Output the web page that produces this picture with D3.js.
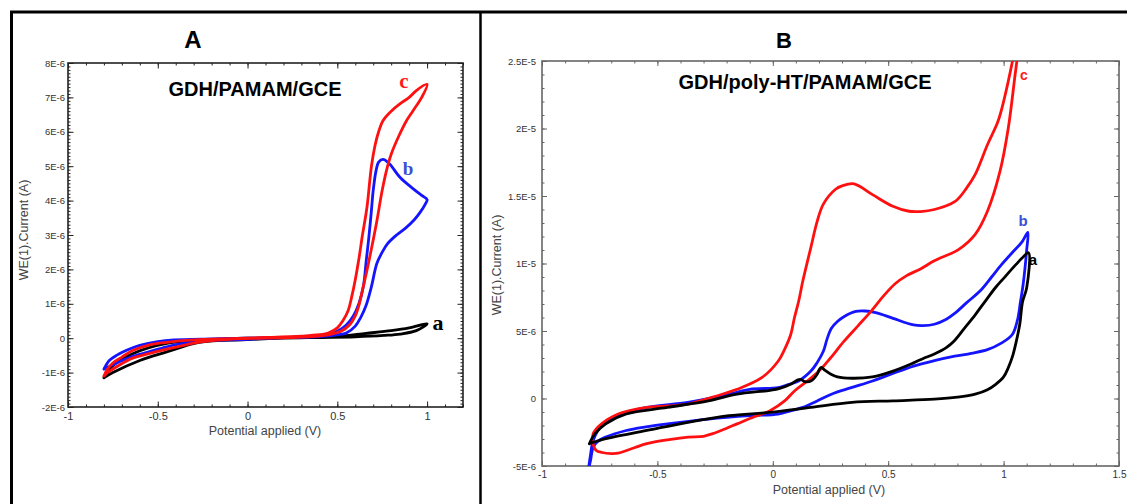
<!DOCTYPE html>
<html><head><meta charset="utf-8">
<script src="https://cdn.jsdelivr.net/npm/d3@7"></script>
<style>body{margin:0;background:#fff}svg{display:block}</style>
</head><body>
<svg id="chart" width="1127" height="504"></svg>
<script>
// ---------- Panel A data (potential V, current µA) ----------
const potA_a = [-0.8,-0.75,-0.64,-0.45,-0.2,0,0.3,0.5,0.66,0.8,0.9,1.0,0.94,0.85,0.76,0.6,0.4,0.2,0,-0.27,-0.45,-0.6,-0.75,-0.8];
const curA_a = [-1.15,-0.8,-0.45,-0.15,-0.04,0,0.02,0.05,0.14,0.22,0.3,0.42,0.22,0.12,0.08,0.04,0.02,0,-0.04,-0.12,-0.4,-0.65,-1.0,-1.15];

const potA_b = [-0.8,-0.77,-0.73,-0.65,-0.6,-0.5,-0.41,-0.2,0,0.2,0.4,0.5,0.55,0.6,0.63,0.66,0.69,0.72,0.75,0.78,0.83,0.88,0.93,0.96,0.99,1.0,
                0.97,0.923,0.85,0.79,0.755,0.73,0.715,0.7,0.688,0.675,0.662,0.645,0.62,0.59,0.55,0.5,0.4,0.2,0,-0.3,-0.45,-0.55,-0.65,-0.72,-0.8];
const curA_b = [-0.9,-0.65,-0.5,-0.3,-0.21,-0.1,-0.05,-0.02,0,0.02,0.05,0.1,0.15,0.35,0.6,0.95,1.5,2.17,2.5,2.75,3.0,3.2,3.45,3.65,3.9,4.03,
                4.15,4.34,4.67,5.07,5.2,5.12,4.85,4.3,3.6,2.9,2.3,1.5,1.0,0.65,0.38,0.2,0.08,0.02,-0.03,-0.1,-0.25,-0.4,-0.55,-0.7,-0.9];

const potA_c = [-0.8,-0.78,-0.75,-0.7,-0.64,-0.55,-0.45,-0.3,-0.1,0.1,0.3,0.4,0.45,0.5,0.53,0.56,0.58,0.6,0.62,0.64,0.665,0.69,0.71,0.73,0.755,0.8,0.85,0.9,0.94,1.0,
                0.97,0.92,0.886,0.84,0.8,0.78,0.75,0.72,0.69,0.665,0.64,0.62,0.6,0.57,0.52,0.45,0.3,0.1,-0.1,-0.25,-0.35,-0.45,-0.55,-0.64,-0.72,-0.78,-0.8];
const curA_c = [-1.1,-0.9,-0.72,-0.55,-0.36,-0.2,-0.12,-0.05,-0.01,0.02,0.06,0.1,0.15,0.3,0.5,0.8,1.2,1.7,2.3,3.0,3.8,5.0,5.6,6.0,6.33,6.6,6.82,7.0,7.2,7.38,
                7.0,6.6,6.33,5.85,5.35,5.0,4.3,3.4,2.6,1.97,1.4,0.95,0.65,0.4,0.2,0.1,0.03,0,-0.03,-0.1,-0.2,-0.32,-0.45,-0.58,-0.8,-1.0,-1.1];

// ---------- Panel B data (potential V, current µA) ----------
const potB_a = [-0.795,-0.76,-0.724,-0.546,-0.368,-0.19,-0.012,0.165,0.343,0.521,0.7,0.8,0.877,0.93,0.966,1.0,1.02,1.04,1.055,1.07,1.082,1.1,1.108,
                1.08,1.055,1.0,0.966,0.92,0.877,0.83,0.788,0.75,0.7,0.65,0.61,0.521,0.432,0.343,0.28,0.254,0.225,0.21,0.2,0.192,0.165,0.139,0.12,0.105,0.077,0.03,-0.012,-0.155,-0.279,-0.457,-0.635,-0.724,-0.77,-0.795];
const curB_a = [-3.35,-3.15,-2.98,-2.37,-1.76,-1.27,-1.03,-0.66,-0.29,-0.17,-0.05,0.1,0.32,0.65,1.05,1.6,2.27,3.2,4.23,5.5,7.16,8.2,10.8,
                10.4,9.95,8.9,8.24,7.2,6.2,5.2,4.3,3.75,3.3,2.95,2.64,2.03,1.6,1.5,1.6,1.78,2.1,2.3,2.1,1.8,1.3,1.25,1.42,1.35,1.05,0.75,0.61,0.32,-0.17,-0.66,-1.15,-1.88,-2.6,-3.35];

const potB_b = [-0.8,-0.79,-0.778,-0.76,-0.724,-0.635,-0.55,-0.457,-0.279,-0.1,0.023,0.08,0.13,0.19,0.254,0.34,0.432,0.52,0.61,0.7,0.788,0.86,0.93,0.99,1.037,1.06,1.073,1.085,1.1,1.105,
                1.08,1.037,0.99,0.948,0.9,0.84,0.788,0.75,0.7,0.65,0.61,0.521,0.45,0.4,0.36,0.308,0.28,0.254,0.235,0.219,0.19,0.165,0.112,0.06,0.023,-0.1,-0.19,-0.368,-0.546,-0.67,-0.742,-0.778,-0.79,-0.8];
const curB_b = [-5.4,-4.6,-3.6,-3.2,-2.86,-2.37,-2.1,-1.88,-1.52,-1.27,-1.15,-0.9,-0.66,-0.2,0.32,0.8,1.3,1.85,2.4,2.8,3.13,3.35,3.62,4.1,4.72,5.8,7.16,8.5,11.0,12.3,
                11.6,10.8,9.9,9.0,8.0,7.1,6.3,5.85,5.5,5.4,5.45,5.94,6.35,6.48,6.45,6.06,5.7,5.2,4.4,3.5,2.6,2.03,1.3,1.0,0.8,0.68,0.32,-0.29,-0.66,-1.27,-2.0,-3.1,-4.2,-5.4];

const potB_c = [-0.78,-0.765,-0.74,-0.7,-0.67,-0.6,-0.546,-0.45,-0.368,-0.3,-0.26,-0.2,-0.155,-0.08,-0.012,0.05,0.094,0.15,0.2,0.25,0.308,0.37,0.43,0.48,0.53,0.58,0.64,0.7,0.806,0.877,0.93,0.984,1.02,1.05,1.08,1.1,
                1.09,1.05,1.0,0.975,0.93,0.877,0.84,0.79,0.7,0.64,0.59,0.52,0.432,0.352,0.3,0.272,0.219,0.192,0.165,0.13,0.112,0.094,0.077,0.05,0.023,-0.048,-0.155,-0.26,-0.368,-0.45,-0.546,-0.62,-0.67,-0.742,-0.778,-0.78];
const curB_c = [-3.3,-3.85,-4.0,-4.08,-4.05,-3.65,-3.35,-3.05,-2.86,-2.8,-2.6,-2.2,-1.88,-1.35,-0.9,-0.2,0.56,1.3,2.03,3.0,4.23,5.4,6.55,7.6,8.5,9.1,9.6,10.2,11.05,12.16,13.87,16.8,20,24,28,31,
                30,26,22,20.5,18.8,16.6,15.6,14.6,14.0,13.85,13.87,14.24,15.1,15.9,15.75,15.5,14.4,13.1,11.2,8.7,7.2,6.0,4.7,3.6,2.76,1.54,0.68,0.1,-0.42,-0.55,-0.66,-0.9,-1.15,-1.88,-2.6,-3.3];

// ---------- Ticks ----------
const tickA_x = [-1,-0.5,0,0.5,1];
const tickA_xLabels = ["-1","-0.5","0","0.5","1"];
const tickA_y = [-2,-1,0,1,2,3,4,5,6,7,8];
const tickA_yLabels = ["-2E-6","-1E-6","0","1E-6","2E-6","3E-6","4E-6","5E-6","6E-6","7E-6","8E-6"];
const tickB_x = [-1,-0.5,0,0.5,1,1.5];
const tickB_xLabels = ["-1","-0.5","0","0.5","1","1.5"];
const tickB_y = [-5,0,5,10,15,20,25];
const tickB_yLabels = ["-5E-6","0","5E-6","1E-5","1.5E-5","2E-5","2.5E-5"];

const svg = d3.select("#chart");

// outer frame
svg.append("line").attr("x1",10).attr("x2",1127).attr("y1",12).attr("y2",12).attr("stroke","#000").attr("stroke-width",3);
svg.append("line").attr("x1",11.5).attr("x2",11.5).attr("y1",11).attr("y2",504).attr("stroke","#000").attr("stroke-width",3);
svg.append("line").attr("x1",480.5).attr("x2",480.5).attr("y1",11).attr("y2",504).attr("stroke","#000").attr("stroke-width",2.5);

function range(a,b,s){const r=[];for(let v=a;v<=b+1e-9;v+=s)r.push(Math.round(v*1000)/1000);return r;}

function panel(cfg){
  const x = d3.scaleLinear().domain(cfg.xd).range([cfg.L,cfg.R]);
  const y = d3.scaleLinear().domain(cfg.yd).range([cfg.B,cfg.T]);
  const g = svg.append("g");
  const id = "clip"+cfg.name;
  svg.append("defs").append("clipPath").attr("id",id).append("rect")
     .attr("x",cfg.L).attr("y",cfg.T).attr("width",cfg.R-cfg.L).attr("height",cfg.B-cfg.T);

  const minorX = range(cfg.xd[0],cfg.xd[1],0.1);
  const minorY = range(cfg.yd[0],cfg.yd[1],cfg.yMinor);
  const axStyle = sel => { sel.selectAll(".domain").remove(); sel.selectAll("line").attr("stroke",cfg.axColor).attr("stroke-width",1); };
  // minor ticks (inward)
  g.append("g").attr("transform",`translate(0,${cfg.B})`).call(d3.axisBottom(x).tickValues(minorX).tickSize(-cfg.minorLen).tickFormat("")).call(axStyle);
  g.append("g").attr("transform",`translate(0,${cfg.T})`).call(d3.axisTop(x).tickValues(minorX).tickSize(-cfg.minorLen).tickFormat("")).call(axStyle);
  g.append("g").attr("transform",`translate(${cfg.L},0)`).call(d3.axisLeft(y).tickValues(minorY).tickSize(-cfg.minorLen).tickFormat("")).call(axStyle);
  g.append("g").attr("transform",`translate(${cfg.R},0)`).call(d3.axisRight(y).tickValues(minorY).tickSize(-cfg.minorLen).tickFormat("")).call(axStyle);
  // major ticks
  g.append("g").attr("transform",`translate(0,${cfg.T})`).call(d3.axisTop(x).tickValues(cfg.tx).tickSize(-cfg.majorLen).tickFormat("")).call(axStyle);
  g.append("g").attr("transform",`translate(${cfg.R},0)`).call(d3.axisRight(y).tickValues(cfg.ty).tickSize(-cfg.majorLen).tickFormat("")).call(axStyle);
  g.append("g").attr("transform",`translate(0,${cfg.B})`).call(d3.axisBottom(x).tickValues(cfg.tx).tickSize(-cfg.majorLen).tickFormat("")).call(axStyle);
  g.append("g").attr("transform",`translate(${cfg.L},0)`).call(d3.axisLeft(y).tickValues(cfg.ty).tickSize(-cfg.majorLen).tickFormat("")).call(axStyle);
  // labelled axes
  const bx = g.append("g").attr("transform",`translate(0,${cfg.B})`)
     .call(d3.axisBottom(x).tickValues(cfg.tx).tickSize(0).tickPadding(cfg.xPad).tickFormat((d,i)=>cfg.txl[i]));
  bx.select(".domain").remove();
  bx.selectAll("text").attr("font-family","Arial, 'Liberation Sans', sans-serif").attr("font-size",cfg.xFont).attr("fill","#333");
  const ly = g.append("g").attr("transform",`translate(${cfg.L},0)`)
     .call(d3.axisLeft(y).tickValues(cfg.ty).tickSize(0).tickPadding(cfg.yPad).tickFormat((d,i)=>cfg.tyl[i]));
  ly.select(".domain").remove();
  ly.selectAll("text").attr("font-family","Arial, 'Liberation Sans', sans-serif").attr("font-size",cfg.yFont).attr("fill","#333");
  // plot frame
  g.append("rect").attr("x",cfg.L).attr("y",cfg.T).attr("width",cfg.R-cfg.L).attr("height",cfg.B-cfg.T)
   .attr("fill","none").attr("stroke",cfg.axColor).attr("stroke-width",1.6);

  const line = d3.line().x(d=>x(d[0])).y(d=>y(d[1])).curve(d3.curveCatmullRom.alpha(0.5));
  const cg = svg.append("g").attr("clip-path",`url(#${id})`);
  cfg.series.forEach(s=>{
    cg.append("path").datum(d3.zip(s.p,s.c)).attr("d",line).attr("fill","none")
      .attr("stroke",s.color).attr("stroke-width",2.8).attr("stroke-linejoin","round").attr("stroke-linecap","round");
  });
  return {x,y};
}

panel({name:"A", xd:[-1,1.2], yd:[-2,8], L:68, R:463, T:63, B:407, yMinor:0.1,
  tx:tickA_x, txl:tickA_xLabels, ty:tickA_y, tyl:tickA_yLabels, minorLen:2.5, majorLen:5.5,
  axColor:"#222", xFont:"11px", yFont:"9.5px", xPad:5, yPad:3,
  series:[{p:potA_a,c:curA_a,color:"#000"},{p:potA_b,c:curA_b,color:"#1414ff"},{p:potA_c,c:curA_c,color:"#ff1010"}]});

panel({name:"B", xd:[-1,1.5], yd:[-5,25], L:542, R:1119, T:61, B:466, yMinor:1,
  tx:tickB_x, txl:tickB_xLabels, ty:tickB_y, tyl:tickB_yLabels, minorLen:2.5, majorLen:5,
  axColor:"#666", xFont:"10px", yFont:"9.5px", xPad:5, yPad:6,
  series:[{p:potB_b,c:curB_b,color:"#1414ff"},{p:potB_c,c:curB_c,color:"#ff1010"},{p:potB_a,c:curB_a,color:"#000"}]});

const sans = "Arial, 'Liberation Sans', sans-serif";
const serif = "'Times New Roman', 'Liberation Serif', serif";
function txt(x,y,s,o){const t=svg.append("text").attr("x",x).attr("y",y).text(s).attr("text-anchor",o.anchor||"middle")
  .attr("font-family",o.ff||sans).attr("font-size",o.fs).attr("font-weight",o.fw||"normal").attr("fill",o.fill||"#000");
  if(o.rot) t.attr("transform",`rotate(-90,${x},${y})`); return t;}

txt(193,48,"A",{fs:"24px",fw:"bold"});
txt(784,48,"B",{fs:"22px",fw:"bold"});
txt(255,96,"GDH/PAMAM/GCE",{fs:"20px",fw:"bold"});
txt(805,89,"GDH/poly-HT/PAMAM/GCE",{fs:"20px",fw:"bold"});

txt(265,435,"Potential applied (V)",{fs:"12.5px",fill:"#444"});
txt(829,494,"Potential applied (V)",{fs:"12.5px",fill:"#444"});
txt(28,230,"WE(1).Current (A)",{fs:"12.5px",fill:"#444",rot:true});
txt(501,265,"WE(1).Current (A)",{fs:"12.5px",fill:"#444",rot:true});

txt(404,88,"c",{ff:serif,fs:"21px",fw:"bold",fill:"#ff1a1a"});
txt(408,175,"b",{ff:serif,fs:"19px",fw:"bold",fill:"#3a4fd6"});
txt(438,330,"a",{ff:serif,fs:"22px",fw:"bold",fill:"#000"});

txt(1024,80,"c",{fs:"14px",fw:"bold",fill:"#ff1a1a"});
txt(1023,226,"b",{fs:"15px",fw:"bold",fill:"#3a4fd6"});
txt(1033,265,"a",{fs:"15px",fw:"bold",fill:"#000"});
</script>
</body></html>
